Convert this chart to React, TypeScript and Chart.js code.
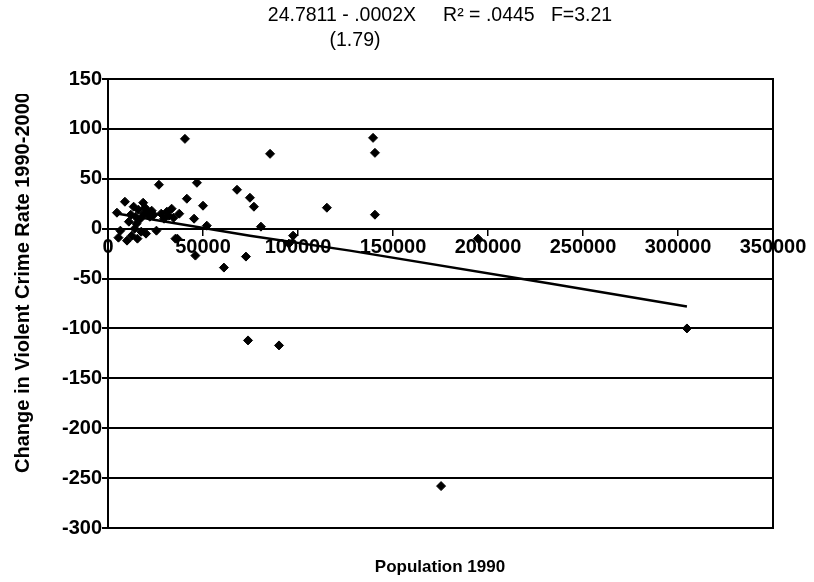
import React, { useEffect, useRef } from "react";
import { Chart, registerables } from "chart.js";

Chart.register(...registerables);

// Population 1990 (x) and change in violent crime rate 1990-2000 (y)
const population1990 = [
  4700, 5500, 6500, 8900, 10000, 11000, 12000, 12500, 13500, 14000,
  14500, 15000, 15500, 16000, 17000, 17500, 18500, 18900, 19500, 20000,
  21000, 22000, 23000, 24000, 25500, 26800, 28000, 29500, 31000, 32000,
  33500, 34500, 35500, 36500, 37500, 40500, 41500, 45300, 46800, 46000,
  50000, 52000, 61000, 67900, 72600, 73700, 74700, 76800, 80500, 85300,
  90000, 95200, 97400, 115200, 139500, 140500, 140500, 175300, 194700, 304700,
];
const crimeRateChange = [
  16, -9, -2, 27, -12, 7, 14, -7, 22, 0,
  12, 5, -10, 19, 10, -3, 26, 15, 21, -5,
  17, 12, 18, 14, -2, 44, 15, 10, 17, 13,
  20, 11, -10, -10, 15, 90, 30, 10, 46, -27,
  23, 3, -39, 39, -28, -112, 31, 22, 2, 75,
  -117, -15, -7, 21, 91, 76, 14, -258, -10, -100,
];

// Fitted (predicted) line
const trendPopulation = [5300, 74700, 127300, 232600, 304700];
const trendPredicted = [15, -7, -22, -55, -78];

const xTickValues = [0, 50000, 100000, 150000, 200000, 250000, 300000, 350000];
const yTickValues = [150, 100, 50, 0, -50, -100, -150, -200, -250, -300];

const titleLine1 = "24.7811 - .0002X     R\u00B2 = .0445   F=3.21";
const titleLine2 = "(1.79)";
const xAxisTitle = "Population 1990";
const yAxisTitle = "Change in Violent Crime Rate 1990-2000";

const FONT = '"Liberation Sans", Arial, sans-serif';

export default function App() {
  const canvasRef = useRef<HTMLCanvasElement | null>(null);

  useEffect(() => {
    const canvas = canvasRef.current;
    if (!canvas) return;

    const decorations = {
      id: "decorations",
      afterDraw(chart: any) {
        const { ctx, chartArea } = chart;
        ctx.save();
        // plot frame
        ctx.strokeStyle = "#000";
        ctx.lineWidth = 2;
        ctx.strokeRect(
          chartArea.left,
          chartArea.top,
          chartArea.right - chartArea.left,
          chartArea.bottom - chartArea.top
        );
        // titles
        ctx.fillStyle = "#000";
        ctx.textBaseline = "middle";
        ctx.textAlign = "center";
        ctx.font = `19.5px ${FONT}`;
        ctx.fillText(titleLine1, 440, 16);
        ctx.fillText(titleLine2, 355, 41);
        ctx.font = `bold 17px ${FONT}`;
        ctx.fillText(xAxisTitle, 440, 567);
        // rotated y title, clipped at the top as in the original
        ctx.font = `bold 20px ${FONT}`;
        ctx.beginPath();
        ctx.rect(0, 94, 60, 480);
        ctx.clip();
        ctx.translate(23, 0);
        ctx.rotate(-Math.PI / 2);
        ctx.textAlign = "left";
        ctx.fillText(yAxisTitle, -473, 0);
        ctx.restore();
      },
    };

    const chart = new Chart(canvas, {
      type: "scatter",
      data: {
        datasets: [
          {
            label: "Change",
            data: population1990.map((x, i) => ({ x, y: crimeRateChange[i] })),
            pointStyle: "rectRot",
            pointRadius: 4.5,
            pointBackgroundColor: "#000",
            pointBorderColor: "#000",
            pointBorderWidth: 1,
            showLine: false,
          },
          {
            label: "Predicted",
            data: trendPopulation.map((x, i) => ({ x, y: trendPredicted[i] })),
            showLine: true,
            borderColor: "#000",
            borderWidth: 2.5,
            pointRadius: 0,
            fill: false,
          },
        ],
      },
      options: {
        responsive: false,
        animation: false,
        layout: { padding: { left: 0, right: 41, top: 79, bottom: 54 } },
        plugins: {
          legend: { display: false },
          tooltip: { enabled: false },
          title: { display: false },
        },
        scales: {
          x: {
            type: "linear",
            min: 0,
            max: 350000,
            position: { y: 0 } as any,
            afterBuildTicks: (scale: any) => {
              scale.ticks = xTickValues.map((v) => ({ value: v }));
            },
            ticks: {
              color: "#000",
              font: { family: FONT, size: 20, weight: "bold" },
              padding: 1,
              maxRotation: 0,
              autoSkip: false,
              callback: (v: any) => String(v),
            },
            grid: {
              drawOnChartArea: false,
              drawTicks: true,
              tickLength: 6,
              color: "#000",
              lineWidth: 1.5,
            },
            border: { display: true, color: "#000", width: 2 },
          },
          y: {
            type: "linear",
            min: -300,
            max: 150,
            afterBuildTicks: (scale: any) => {
              scale.ticks = yTickValues.map((v) => ({ value: v }));
            },
            afterFit: (scale: any) => {
              scale.width = 108;
            },
            ticks: {
              color: "#000",
              font: { family: FONT, size: 20, weight: "bold" },
              padding: 0,
              callback: (v: any) => String(v),
            },
            grid: {
              color: "#000",
              lineWidth: 2,
              drawTicks: true,
              tickLength: 6,
            },
            border: { display: true, color: "#000", width: 2 },
          },
        },
      },
      plugins: [decorations],
    });

    return () => chart.destroy();
  }, []);

  return (
    <div style={{ position: "fixed", left: 0, top: 0, width: 814, height: 582, background: "#fff" }}>
      <canvas ref={canvasRef} width={814} height={582} style={{ display: "block" }} />
    </div>
  );
}
